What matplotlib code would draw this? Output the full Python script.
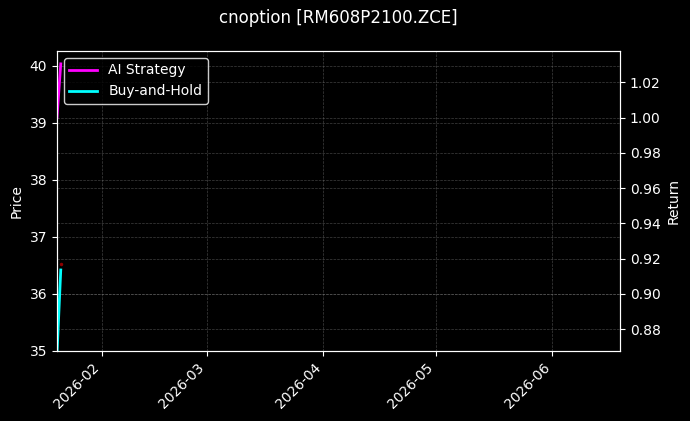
import matplotlib
matplotlib.use("Agg")
import matplotlib.pyplot as plt
import matplotlib.dates as mdates
import numpy as np
import pandas as pd

title = "cnoption [RM608P2100.ZCE]"
dates = pd.to_datetime(["2026-01-20", "2026-01-21"])
ai_strategy = [1.000, 1.0304]
buy_and_hold = [0.866, 0.9136]
price_dates = pd.to_datetime(["2026-01-21"])
price = [36.52]
x_range = pd.to_datetime(["2026-01-20", "2026-06-19"])

plt.style.use("dark_background")
fig = plt.figure(figsize=(6.9, 4.21), dpi=100)
ax1 = fig.add_axes([0.0826, 0.1663, 0.816, 0.7126])
ax2 = ax1.twinx()

ax1.plot(price_dates, price, "o", color="#8b0000", markersize=1.5)
ax1.set_ylim(35, 40.26)
ax1.set_ylabel("Price")

ax2.plot(dates, ai_strategy, color="magenta", linewidth=2, label="AI Strategy")
ax2.plot(dates, buy_and_hold, color="cyan", linewidth=2, label="Buy-and-Hold")
ax2.set_ylim(0.8677, 1.0377)
ax2.set_ylabel("Return")

ax1.set_xlim(x_range[0], x_range[1])
ax1.xaxis.set_major_locator(mdates.MonthLocator())
ax1.xaxis.set_major_formatter(mdates.DateFormatter("%Y-%m"))
plt.setp(ax1.get_xticklabels(), rotation=45, ha="right")

ax1.grid(True, linestyle="--", linewidth=0.5, color="gray", alpha=0.5)
ax2.grid(True, linestyle="--", linewidth=0.5, color="gray", alpha=0.5)

ax1.set_title(title, fontsize=12, pad=20)
ax2.legend(loc="upper left", facecolor="black", edgecolor="white")

fig.savefig("out.png", dpi=100)
